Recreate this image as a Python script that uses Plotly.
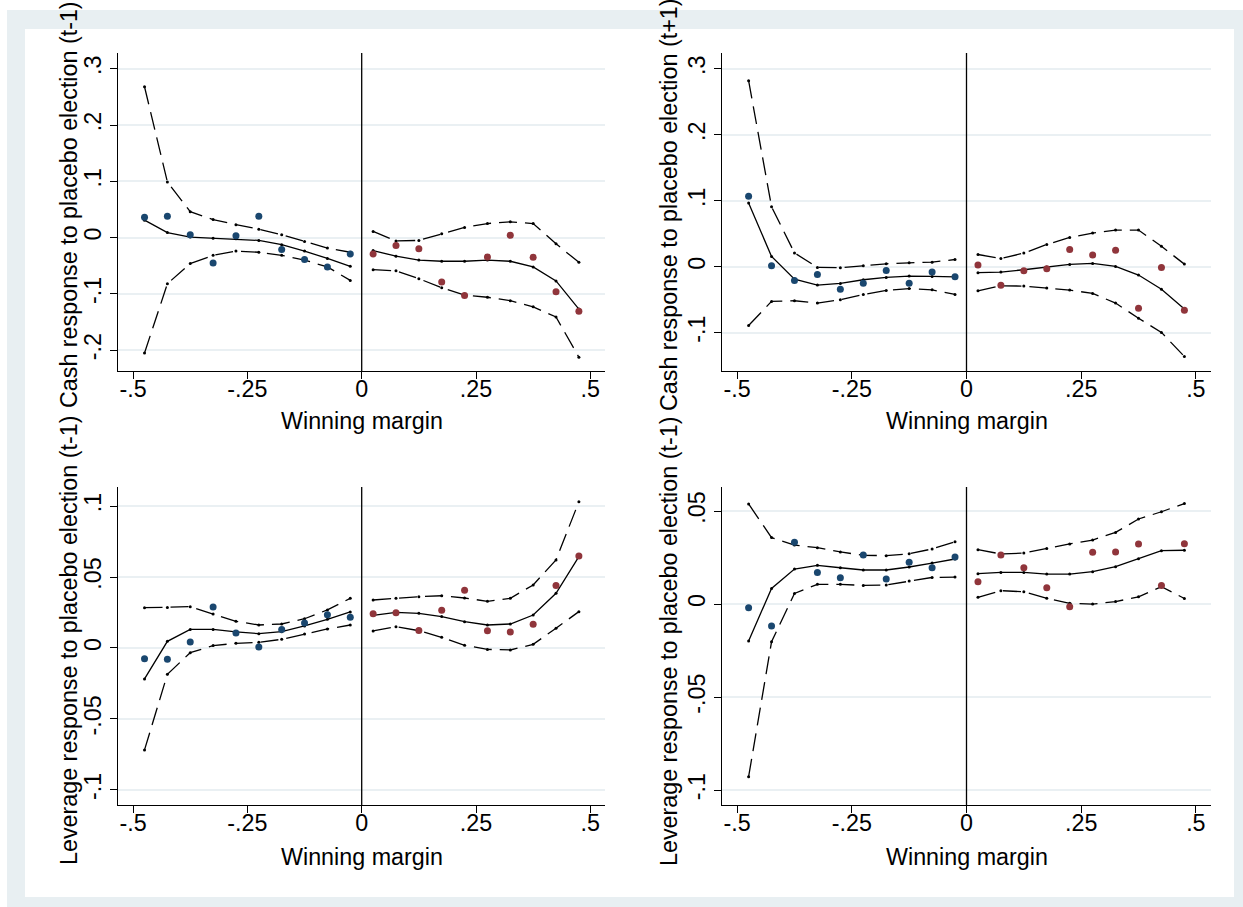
import plotly.graph_objects as go

# ---------------- data ----------------
x_left = [-0.475, -0.425, -0.375, -0.325, -0.275, -0.225, -0.175, -0.125, -0.075, -0.025]
x_right = [0.025, 0.075, 0.125, 0.175, 0.225, 0.275, 0.325, 0.375, 0.425, 0.475]

# Panel 1: Cash response to placebo election (t-1)
c1_pts_L = [0.036, 0.038, 0.005, -0.045, 0.0035, 0.038, -0.021, -0.039, -0.052, -0.029]
c1_fit_L = [0.031, 0.009, 0.001, -0.001, -0.002, -0.005, -0.0125, -0.024, -0.037, -0.051]
c1_hi_L = [0.268, 0.099, 0.046, 0.032, 0.023, 0.015, 0.005, -0.007, -0.0185, -0.026]
c1_lo_L = [-0.205, -0.082, -0.046, -0.0315, -0.024, -0.026, -0.0315, -0.040, -0.052, -0.076]
c1_pts_R = [-0.029, -0.014, -0.020, -0.079, -0.103, -0.0345, 0.004, -0.035, -0.096, -0.131]
c1_fit_R = [-0.023, -0.033, -0.040, -0.042, -0.042, -0.040, -0.042, -0.052, -0.077, -0.127]
c1_hi_R = [0.011, -0.006, -0.005, 0.007, 0.018, 0.025, 0.028, 0.025, -0.011, -0.044]
c1_lo_R = [-0.057, -0.059, -0.073, -0.089, -0.102, -0.106, -0.112, -0.123, -0.141, -0.2125]

# Panel 2: Cash response to placebo election (t+1)
c2_pts_L = [0.107, 0.0015, -0.021, -0.0116, -0.034, -0.025, -0.0056, -0.025, -0.008, -0.015]
c2_fit_L = [0.0965, 0.0156, -0.0187, -0.0278, -0.0253, -0.0197, -0.0162, -0.0141, -0.0146, -0.0152]
c2_hi_L = [0.282, 0.091, 0.021, -0.001, -0.0015, 0.0015, 0.0045, 0.006, 0.007, 0.011]
c2_lo_L = [-0.089, -0.0525, -0.0515, -0.055, -0.050, -0.042, -0.036, -0.033, -0.035, -0.042]
c2_pts_R = [0.0025, -0.028, -0.006, -0.003, 0.026, 0.018, 0.025, -0.063, -0.001, -0.066]
c2_fit_R = [-0.009, -0.008, -0.0045, -0.0005, 0.0035, 0.005, 0.0005, -0.0126, -0.034, -0.064]
c2_hi_R = [0.0186, 0.0126, 0.0207, 0.0338, 0.0444, 0.051, 0.0556, 0.0556, 0.031, 0.004]
c2_lo_R = [-0.0364, -0.0288, -0.0293, -0.0323, -0.0354, -0.0404, -0.055, -0.078, -0.0995, -0.136]

# Panel 3: Leverage response to placebo election (t-1)
l1_pts_L = [-0.0075, -0.008, 0.0042, 0.0289, 0.0106, 0.0007, 0.0131, 0.0176, 0.0235, 0.0216]
l1_fit_L = [-0.0218, 0.0047, 0.0131, 0.0131, 0.0113, 0.0101, 0.0115, 0.0155, 0.0202, 0.0254]
l1_hi_L = [0.0284, 0.0285, 0.0291, 0.0239, 0.0188, 0.0162, 0.0169, 0.0206, 0.0268, 0.035]
l1_lo_L = [-0.0718, -0.0185, -0.0033, 0.0017, 0.0033, 0.004, 0.0061, 0.0099, 0.0134, 0.0162]
l1_pts_R = [0.0242, 0.0249, 0.0124, 0.0265, 0.0406, 0.0122, 0.0113, 0.0167, 0.0441, 0.0648]
l1_fit_R = [0.023, 0.0251, 0.0244, 0.0221, 0.0185, 0.0162, 0.0169, 0.0232, 0.0385, 0.0643]
l1_hi_R = [0.0338, 0.035, 0.0361, 0.0368, 0.0352, 0.0329, 0.035, 0.0444, 0.062, 0.103]
l1_lo_R = [0.012, 0.015, 0.0122, 0.0075, 0.0019, -0.001, -0.0014, 0.0026, 0.0139, 0.0256]

# Panel 4: Leverage response to placebo election
l2_pts_L = [-0.002, -0.0118, 0.0332, 0.017, 0.0141, 0.0263, 0.0134, 0.0224, 0.0195, 0.0253]
l2_fit_L = [-0.0199, 0.0084, 0.0188, 0.0208, 0.0195, 0.0183, 0.0183, 0.0199, 0.022, 0.0242]
l2_hi_L = [0.0538, 0.0357, 0.0317, 0.0303, 0.028, 0.0262, 0.026, 0.027, 0.0296, 0.0335]
l2_lo_L = [-0.0928, -0.0203, 0.0057, 0.0106, 0.0106, 0.010, 0.0102, 0.0124, 0.0143, 0.0145]
l2_pts_R = [0.012, 0.0263, 0.0195, 0.0088, -0.0014, 0.0278, 0.028, 0.0323, 0.010, 0.0324]
l2_fit_R = [0.0163, 0.017, 0.017, 0.0161, 0.0161, 0.0174, 0.0201, 0.0244, 0.0287, 0.0289]
l2_hi_R = [0.0292, 0.0269, 0.0274, 0.0299, 0.0323, 0.0344, 0.0385, 0.0457, 0.0496, 0.054]
l2_lo_R = [0.0036, 0.0072, 0.0066, 0.0031, 0.0004, 0.0, 0.0013, 0.0039, 0.0093, 0.003]

x_tickvals = [-0.5, -0.25, 0, 0.25, 0.5]
x_ticktext = ["-.5", "-.25", "0", ".25", ".5"]
y1_tickvals = [-0.2, -0.1, 0, 0.1, 0.2, 0.3]
y1_ticktext = ["-.2", "-.1", "0", ".1", ".2", ".3"]
y2_tickvals = [-0.1, 0, 0.1, 0.2, 0.3]
y2_ticktext = ["-.1", "0", ".1", ".2", ".3"]
y3_tickvals = [-0.1, -0.05, 0, 0.05, 0.1]
y3_ticktext = ["-.1", "-.05", "0", ".05", ".1"]
y4_tickvals = [-0.1, -0.05, 0, 0.05]
y4_ticktext = ["-.1", "-.05", "0", ".05"]

y_titles = ["Cash response to placebo election (t-1)",
            "Cash response to placebo election (t+1)",
            "Leverage response to placebo election (t-1)",
            "Leverage response to placebo election (t-1)"]
x_title = "Winning margin"

# ---------------- style / layout ----------------
W, H = 1243, 907
FONT = "Liberation Sans, Arial, Helvetica, sans-serif"
FS = 23.3
BLUE = "#1a476f"
RED = "#90353b"
GRID = "#eaf0f3"
BAND = "#e8eff2"
DASH = "18px,8px"

def px_x(p):
    return p / W

def px_y(p):
    return 1 - p / H

panels = [
    dict(ax="", xd=(118, 605.4), yd=(53, 371), yr=(-0.237, 0.328), tv=y1_tickvals, tt=y1_ticktext,
         data=(c1_pts_L, c1_fit_L, c1_hi_L, c1_lo_L, c1_pts_R, c1_fit_R, c1_hi_R, c1_lo_R),
         ytc=205, xtc=421, ytx=69),
    dict(ax="2", xd=(722, 1211), yd=(53, 371), yr=(-0.158, 0.324), tv=y2_tickvals, tt=y2_ticktext,
         data=(c2_pts_L, c2_fit_L, c2_hi_L, c2_lo_L, c2_pts_R, c2_fit_R, c2_hi_R, c2_lo_R),
         ytc=205, xtc=421, ytx=669),
    dict(ax="3", xd=(118, 605.4), yd=(487, 805), yr=(-0.1106, 0.1134), tv=y3_tickvals, tt=y3_ticktext,
         data=(l1_pts_L, l1_fit_L, l1_hi_L, l1_lo_L, l1_pts_R, l1_fit_R, l1_hi_R, l1_lo_R),
         ytc=641, xtc=857, ytx=69),
    dict(ax="4", xd=(722, 1211), yd=(487, 805), yr=(-0.108, 0.0629), tv=y4_tickvals, tt=y4_ticktext,
         data=(l2_pts_L, l2_fit_L, l2_hi_L, l2_lo_L, l2_pts_R, l2_fit_R, l2_hi_R, l2_lo_R),
         ytc=641, xtc=857, ytx=669),
]

fig = go.Figure()
layout = dict(
    width=W, height=H,
    margin=dict(l=0, r=0, t=0, b=0),
    paper_bgcolor="white", plot_bgcolor="white",
    showlegend=False,
    font=dict(family=FONT, size=FS, color="black"),
)
shapes = [
    dict(type="rect", xref="paper", yref="paper", x0=px_x(7), x1=1.0, y0=0.0, y1=px_y(10),
         fillcolor=BAND, line=dict(width=0), layer="below"),
    dict(type="rect", xref="paper", yref="paper", x0=px_x(25), x1=px_x(1234), y0=px_y(897), y1=px_y(29),
         fillcolor="white", line=dict(width=0), layer="below"),
]
annotations = []

for i, p in enumerate(panels):
    xa, ya = "x" + p["ax"], "y" + p["ax"]
    ptsL, fitL, hiL, loL, ptsR, fitR, hiR, loR = p["data"]
    for xs, fit, hi, lo, pts, col in ((x_left, fitL, hiL, loL, ptsL, BLUE),
                                      (x_right, fitR, hiR, loR, ptsR, RED)):
        for band in (hi, lo):
            fig.add_trace(go.Scatter(x=xs, y=band, xaxis=xa, yaxis=ya, mode="lines+markers",
                                     line=dict(color="black", width=1.3, dash=DASH),
                                     marker=dict(color="black", size=3), hoverinfo="skip"))
        fig.add_trace(go.Scatter(x=xs, y=fit, xaxis=xa, yaxis=ya, mode="lines+markers",
                                 line=dict(color="black", width=1.3),
                                 marker=dict(color="black", size=3), hoverinfo="skip"))
        fig.add_trace(go.Scatter(x=xs, y=pts, xaxis=xa, yaxis=ya, mode="markers",
                                 marker=dict(color=col, size=7, symbol="circle")))
    xkey = "xaxis" + p["ax"]
    ykey = "yaxis" + p["ax"]
    layout[xkey] = dict(
        domain=[px_x(p["xd"][0]), px_x(p["xd"][1])], anchor=ya,
        range=[-0.533, 0.533], tickvals=x_tickvals, ticktext=x_ticktext,
        showgrid=False, zeroline=False, showline=True, linecolor="black", linewidth=1.3,
        ticks="outside", ticklen=7, tickwidth=1.3, tickcolor="black",
        ticklabelstandoff=-10,
        tickfont=dict(size=FS), fixedrange=True,
    )
    layout[ykey] = dict(
        domain=[px_y(p["yd"][1]), px_y(p["yd"][0])], anchor=xa,
        range=list(p["yr"]), tickvals=p["tv"], ticktext=p["tt"],
        showgrid=True, gridcolor=GRID, gridwidth=1.5, zeroline=False,
        showline=True, linecolor="black", linewidth=1.3,
        ticks="outside", ticklen=7, tickwidth=1.3, tickcolor="black",
        tickangle=-90, tickfont=dict(size=FS), fixedrange=True,
    )
    shapes.append(dict(type="line", xref=xa, yref=ya + " domain", x0=0, x1=0, y0=0, y1=1,
                       line=dict(color="black", width=1.3)))
    annotations.append(dict(text=x_title, xref="paper", yref="paper",
                            x=px_x((p["xd"][0] + p["xd"][1]) / 2), y=px_y(p["xtc"]),
                            xanchor="center", yanchor="middle", showarrow=False,
                            font=dict(size=FS)))
    annotations.append(dict(text=y_titles[i], xref="paper", yref="paper",
                            x=px_x(p["ytx"]), y=px_y(p["ytc"]), textangle=-90,
                            xanchor="center", yanchor="middle", showarrow=False,
                            font=dict(size=FS)))

layout["shapes"] = shapes
layout["annotations"] = annotations
fig.update_layout(**layout)
fig.write_html("out.html")
